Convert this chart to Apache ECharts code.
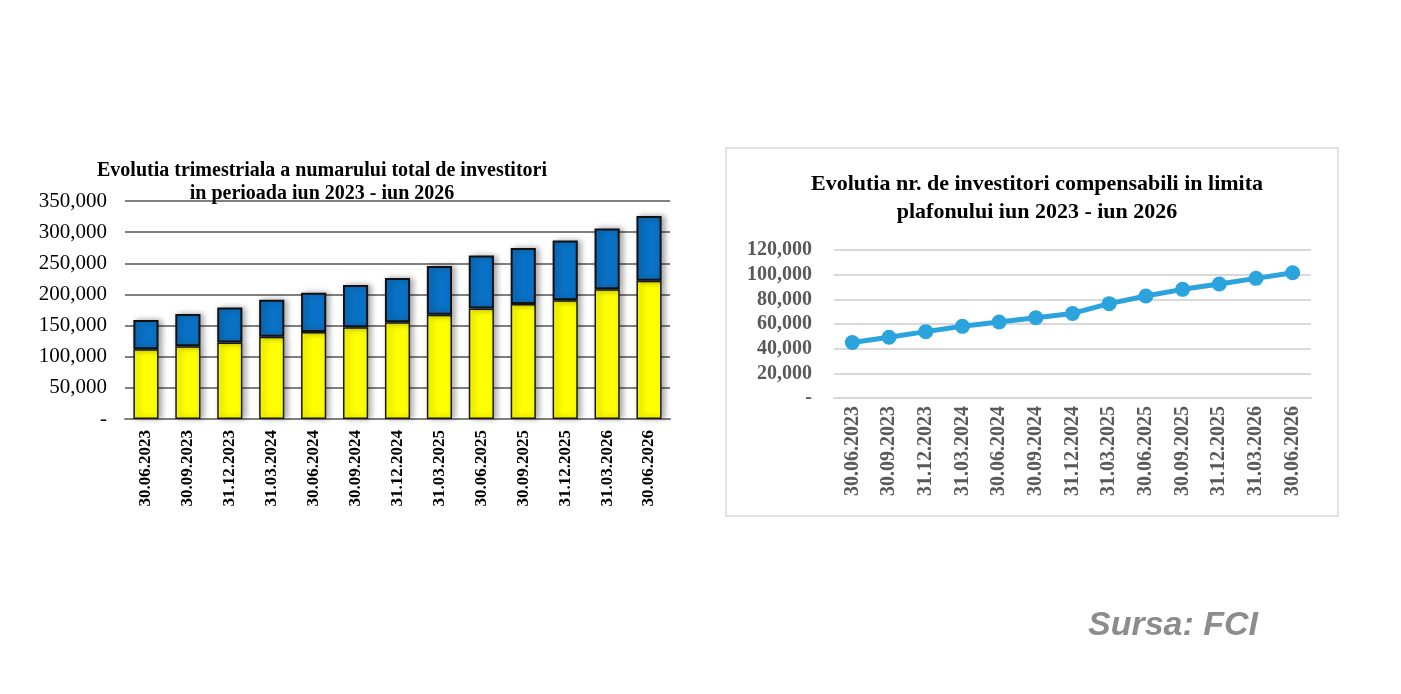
<!DOCTYPE html>
<html lang="ro">

<head>
  <meta charset="UTF-8">
  <title>Evolutia investitorilor</title>
  <style>
    html, body { margin: 0; padding: 0; background: #fff; }
    #chart { width: 1401px; height: 694px; }
  </style>
</head>

<body>
  <div id="chart"></div>
</body>
<script src="https://cdn.jsdelivr.net/npm/echarts@6/dist/echarts.min.js"></script>
<script>
  // date trimestriale
  var categories = ['30.06.2023', '30.09.2023', '31.12.2023', '31.03.2024', '30.06.2024', '30.09.2024',
    '31.12.2024', '31.03.2025', '30.06.2025', '30.09.2025', '31.12.2025', '31.03.2026', '30.06.2026'];

  // grafic stanga - bare stivuite (galben jos, albastru sus)
  var yellowValues = [112000, 117000, 123000, 132000, 139500, 147500, 155500, 167500, 177500, 184500, 190500, 208500, 222000];
  var blueValues = [47000, 51500, 56000, 59500, 63000, 67500, 71000, 78000, 85000, 90000, 96000, 97500, 104000];

  // grafic dreapta - investitori compensabili
  var compensabili = [45000, 49200, 53800, 58100, 61600, 65100, 68600, 76500, 82700, 88100, 92400, 97000, 101600];

  var serif = '"Liberation Serif", "Times New Roman", serif';

  function fmt(v) {
    if (v === 0) return '-';
    return v.toLocaleString('en-US');
  }

  var chart = echarts.init(document.getElementById('chart'));

  chart.setOption({
    animation: false,
    title: [
      {
        text: 'Evolutia trimestriala a numarului total de investitori\nin perioada iun 2023 - iun 2026',
        left: 317,
        top: 154,
        textAlign: 'center',
        textStyle: { fontFamily: serif, fontSize: 20, fontWeight: 'bold', color: '#000', lineHeight: 23, align: 'center' }
      },
      {
        text: 'Evolutia nr. de investitori compensabili in limita\nplafonului iun 2023 - iun 2026',
        left: 1032,
        top: 165,
        textAlign: 'center',
        textStyle: { fontFamily: serif, fontSize: 22, fontWeight: 'bold', color: '#000', lineHeight: 28, align: 'center' }
      }
    ],
    graphic: [
      {
        type: 'rect',
        shape: { x: 726, y: 148, width: 612, height: 368 },
        style: { fill: 'none', stroke: '#d9d9d9', lineWidth: 1.5 },
        z: -1
      },
      {
        type: 'text',
        left: 1088,
        top: 609,
        style: {
          text: 'Sursa: FCI',
          font: 'italic bold 34px "Liberation Sans", Arial, sans-serif',
          fill: '#8c8c8c'
        }
      }
    ],
    grid: [
      { left: 125, top: 201, width: 545, height: 218 },
      { left: 834, top: 250, width: 477, height: 148 }
    ],
    xAxis: [
      {
        gridIndex: 0,
        type: 'category',
        data: categories,
        axisLine: { lineStyle: { color: '#808080', width: 2 } },
        axisTick: { show: false },
        axisLabel: { rotate: 90, margin: 11, fontFamily: serif, fontSize: 17, fontWeight: 'bold', color: '#000' }
      },
      {
        gridIndex: 1,
        type: 'category',
        data: categories,
        axisLine: { lineStyle: { color: '#d9d9d9', width: 2 } },
        axisTick: { show: false },
        axisLabel: { rotate: 90, margin: 8, fontFamily: serif, fontSize: 20, fontWeight: 'bold', color: '#595959' }
      }
    ],
    yAxis: [
      {
        gridIndex: 0,
        type: 'value',
        min: 0,
        max: 350000,
        interval: 50000,
        axisLine: { show: false },
        axisTick: { show: false },
        splitLine: { lineStyle: { color: '#808080', width: 2 } },
        axisLabel: { margin: 18, fontFamily: serif, fontSize: 21, color: '#000', formatter: fmt }
      },
      {
        gridIndex: 1,
        type: 'value',
        min: 0,
        max: 120000,
        interval: 20000,
        axisLine: { show: false },
        axisTick: { show: false },
        splitLine: { lineStyle: { color: '#d9d9d9', width: 2 } },
        axisLabel: { margin: 22, fontFamily: serif, fontSize: 20, fontWeight: 'bold', color: '#595959', formatter: fmt }
      }
    ],
    series: [
      {
        name: 'total',
        type: 'bar',
        stack: 'inv',
        xAxisIndex: 0,
        yAxisIndex: 0,
        barWidth: '60%',
        data: yellowValues,
        itemStyle: {
          color: '#ffff00',
          borderColor: '#1a1a1a',
          borderWidth: 1.5,
          shadowColor: 'rgba(0,0,0,0.35)',
          shadowBlur: 6,
          shadowOffsetX: 3
        }
      },
      {
        name: 'compensabili',
        type: 'bar',
        stack: 'inv',
        xAxisIndex: 0,
        yAxisIndex: 0,
        barWidth: '60%',
        data: blueValues,
        itemStyle: {
          color: '#0a72c6',
          borderColor: '#111',
          borderWidth: 2,
          shadowColor: 'rgba(0,0,0,0.35)',
          shadowBlur: 6,
          shadowOffsetX: 3
        }
      },
      {
        name: 'nr. compensabili',
        type: 'line',
        xAxisIndex: 1,
        yAxisIndex: 1,
        data: compensabili,
        symbol: 'circle',
        symbolSize: 15,
        lineStyle: { color: '#2ba3dc', width: 5 },
        itemStyle: { color: '#2ba3dc' }
      }
    ]
  });
</script>

</html>
